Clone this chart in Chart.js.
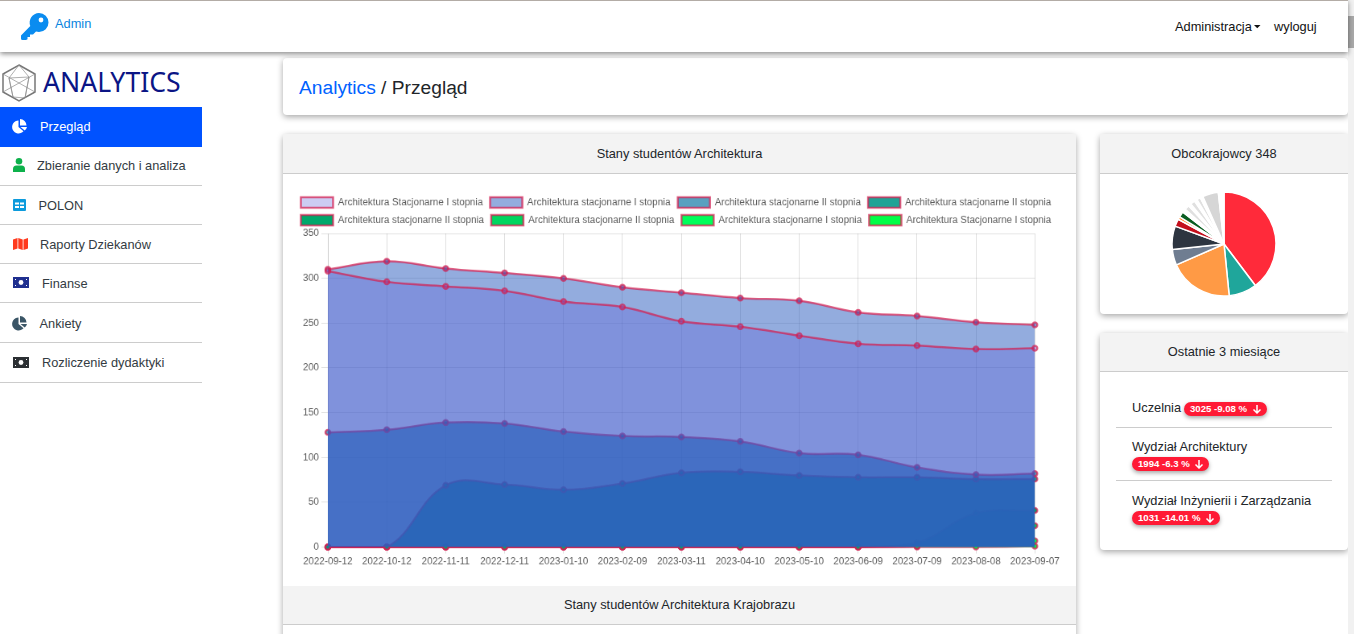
<!DOCTYPE html>
<html lang="pl"><head><meta charset="utf-8"><title>Analytics</title>
<script src="https://cdn.jsdelivr.net/npm/chart.js@4"></script>
<style>
html,body{margin:0;padding:0;width:1354px;height:634px;overflow:hidden;background:#fff;font-family:"Liberation Sans",Arial,sans-serif;color:#212529;font-size:12.8px}
.a{position:absolute;white-space:nowrap}
#nav{left:0;top:0;width:1348px;height:52px;background:#fff;border-top:1px solid #b3aca6;box-sizing:border-box;box-shadow:0 2px 5px rgba(0,0,0,.45);z-index:5}
.card{position:absolute;background:#fff;border-radius:4px;box-shadow:0 2px 6px rgba(0,0,0,.35)}
.hd{position:absolute;left:0;right:0;background:#f3f3f3;border-bottom:1px solid #ccc;text-align:center;line-height:38px;height:39px;box-sizing:border-box}
.item{position:absolute;left:0;width:202px;height:39px;border-bottom:1px solid #ccc;box-sizing:border-box}
.item span{position:absolute;top:11px;color:#333b42;white-space:nowrap}
.item svg{position:absolute}
.badge{position:absolute;background:#ff1a35;color:#fff;font-weight:bold;font-size:9.6px;height:14px;line-height:14px;border-radius:7px;box-shadow:0 2px 4px rgba(0,0,0,.35);padding-left:6px;box-sizing:border-box;white-space:nowrap}
.badge svg{position:absolute;top:2px}
.sep{position:absolute;left:16px;width:216px;height:1px;background:#ccc}
</style></head><body>
<div class="a" id="nav"></div>
<svg class="a" style="left:21px;top:13px;z-index:6" width="28" height="27" viewBox="0 0 28 27"><path fill="#0a8cf0" d="M18 0a9.500 9.500 0 0 1 0 19c-1 0-2-.2-3-.5L12 21.500H9V24H6.500v2.200L5 27H1.500A1.500 1.500 0 0 1 0 25.500v-3L9.300 13A9.500 9.500 0 0 1 18 0z"/><circle cx="20" cy="7" r="2.400" fill="#fff"/></svg>
<div class="a" style="left:55px;top:16px;color:#0a85e0;z-index:6">Admin</div>
<div class="a" style="left:1175px;top:19px;color:#111;z-index:6">Administracja</div>
<svg class="a" style="left:1254px;top:25px;z-index:6" width="7" height="4"><path d="M0 0h6.500L3.250 3.200z" fill="#111"/></svg>
<div class="a" style="left:1274px;top:19px;color:#111;z-index:6">wyloguj</div>

<svg class="a" style="left:2px;top:64px" width="34" height="38" viewBox="0 0 34 38" fill="none" stroke="#8c8c8c" stroke-width=".7"><path d="M17 1 33 10V28L17 37 1 28V10z" stroke-width="1.500" stroke="#777"/><path d="M1 10 33 28M33 10 1 28M17 1 7 14 11 33M17 1 27 13 23 34M7 14 27 13 23 34 11 33z"/></svg>
<div class="a" style="left:43px;top:63px;font-family:'Noto Sans';font-size:26.600px;line-height:38px;color:#0b1585">ANALYTICS</div>

<div class="a" style="left:0;top:107px;width:202px;height:40px;background:#0052ff"></div>
<svg class="a" style="left:12px;top:119px" width="15" height="15" viewBox="0 0 15 15"><path fill="#fff" d="M6.500 1.500V8l5 4.300A6.500 6.500 0 1 1 6.500 1.500zM8 0a6.500 6.500 0 0 1 6.500 6.500H8zM8.500 8H15a6.500 6.500 0 0 1-2.300 3.500z"/></svg>
<div class="a" style="left:40px;top:119px;color:#fff">Przegląd</div>
<div class="item" style="top:147px"><svg style="left:13px;top:11px" width="12" height="14" viewBox="0 0 12 14"><circle cx="6" cy="3.300" r="3.300" fill="#0db14b"/><path fill="#0db14b" d="M0 14v-3a3.500 3.500 0 0 1 3.500-3.500h5A3.500 3.500 0 0 1 12 11v3z"/></svg><span style="left:37px">Zbieranie danych i analiza</span></div>
<div class="item" style="top:186px"><svg style="left:13px;top:13px" width="13" height="12" viewBox="0 0 13 12"><rect width="13" height="12" rx="1" fill="#0d9bdc"/><path fill="#fff" d="M2 3.500h4v2H2zM7 3.500h4v2H7zM2 7h4v2H2zM7 7h4v2H7z"/></svg><span style="left:38.500px;top:12px">POLON</span></div>
<div class="item" style="top:225px"><svg style="left:13px;top:13px" width="15" height="12" viewBox="0 0 15 12"><path fill="#ff3b1f" d="M0 1.500 4.500 0v10.500L0 12zM5.300 0 9.700 1.500V12L5.300 10.500zM10.500 1.500 15 0v10.500L10.500 12z"/></svg><span style="left:40px;top:12px">Raporty Dziekanów</span></div>
<div class="item" style="top:264px"><svg style="left:13px;top:13px" width="16" height="11" viewBox="0 0 16 11"><rect width="16" height="11" fill="#1f2f8f"/><circle cx="8" cy="5.500" r="2.400" fill="#fff"/><path fill="#fff" d="M2 2h1v1H2zM13 8h1v1h-1zM2 8h1v1H2zM13 2h1v1h-1z"/></svg><span style="left:42px;top:12px">Finanse</span></div>
<div class="item" style="top:304px"><svg style="left:12px;top:12px" width="15" height="15" viewBox="0 0 15 15"><path fill="#3a5566" d="M6.500 1.500V8l5 4.300A6.500 6.500 0 1 1 6.500 1.500zM8 0a6.500 6.500 0 0 1 6.500 6.500H8zM8.500 8H15a6.500 6.500 0 0 1-2.300 3.500z"/></svg><span style="left:39.500px;top:12px">Ankiety</span></div>
<div class="item" style="top:344px"><svg style="left:13px;top:13px" width="16" height="11" viewBox="0 0 16 11"><rect width="16" height="11" fill="#2b2f33"/><circle cx="8" cy="5.500" r="2.400" fill="#fff"/><path fill="#fff" d="M2 2h1v1H2zM13 8h1v1h-1zM2 8h1v1H2zM13 2h1v1h-1z"/></svg><span style="left:42px;top:11px">Rozliczenie dydaktyki</span></div>

<div class="card" style="left:283px;top:58px;width:1065px;height:57px"><div class="a" style="left:16px;top:18px;font-size:19.200px;line-height:23px"><span style="color:#0062ff">Analytics</span> / Przegląd</div></div>

<div class="card" style="left:283px;top:134px;width:793px;height:520px">
 <div class="hd" style="top:0;height:40px;line-height:39px">Stany studentów Architektura</div>
 <div class="hd" style="top:452px;height:39px;">Stany studentów Architektura Krajobrazu</div>
</div>
<canvas id="main" class="a" width="959" height="472" style="left:290.200px;top:190px;transform-origin:0 0;transform:scale(.805)"></canvas>

<div class="card" style="left:1100px;top:134px;width:248px;height:180px"><div class="hd" style="top:0;height:40px;line-height:39px">Obcokrajowcy 348</div></div>
<canvas id="pie" class="a" width="130" height="120" style="left:1159px;top:184px"></canvas>

<div class="card" style="left:1100px;top:333px;width:248px;height:217px">
 <div class="hd" style="top:0;line-height:38px">Ostatnie 3 miesiące</div>
 <div class="a" style="left:32px;top:67px">Uczelnia</div>
 <div class="badge" style="left:84px;top:69px;width:83px">3025 -9.08 %<svg style="left:68px" width="10" height="10" viewBox="0 0 10 10"><path d="M5 1v8M1.500 5.500 5 9l3.500-3.500" fill="none" stroke="#fff" stroke-width="1.500"/></svg></div>
 <div class="sep" style="top:94px"></div>
 <div class="a" style="left:32px;top:106px">Wydział Architektury</div>
 <div class="badge" style="left:32px;top:124px;width:77px">1994 -6.3 %<svg style="left:62px" width="10" height="10" viewBox="0 0 10 10"><path d="M5 1v8M1.500 5.500 5 9l3.500-3.500" fill="none" stroke="#fff" stroke-width="1.500"/></svg></div>
 <div class="sep" style="top:147px"></div>
 <div class="a" style="left:32px;top:160px">Wydział Inżynierii i Zarządzania</div>
 <div class="badge" style="left:32px;top:178px;width:88px">1031 -14.01 %<svg style="left:73px" width="10" height="10" viewBox="0 0 10 10"><path d="M5 1v8M1.500 5.500 5 9l3.500-3.500" fill="none" stroke="#fff" stroke-width="1.500"/></svg></div>
</div>

<div class="a" style="left:1348px;top:0;width:6px;height:634px;background:#f1f1f1"></div>
<div class="a" style="left:1348px;top:16px;width:6px;height:32px;background:#a8a8a8"></div>

<script>
const dates = ["2022-09-12","2022-10-12","2022-11-11","2022-12-11","2023-01-10","2023-02-09","2023-03-11","2023-04-10","2023-05-10","2023-06-09","2023-07-09","2023-08-08","2023-09-07"];
const seriesNames = ["Architektura Stacjonarne I stopnia","Architektura stacjonarne I stopnia","Architektura stacjonarne II stopnia","Architektura stacjonarne II stopnia","Architektura stacjonarne II stopnia","Architektura stacjonarne II stopnia","Architektura stacjonarne I stopnia","Architektura Stacjonarne I stopnia"];
const s1 = [308,296,291,286,274,268,252,246,236,227,225,221,222];
const s2 = [310,319,311,306,300,290,284,278,275,262,258,251,248];
const s3 = [128,131,139,138,129,124,123,118,105,103,89,81,82];
const s4 = [0,0,69,70,64,71,83,84,80,78,78,76,76];
const s5 = [0,0,0,0,0,0,0,0,0,0,5,38,41];
const s6 = [0,0,0,0,0,0,0,0,0,0,1,17,24];
const s7 = [0,0,0,0,0,0,0,0,0,0,2,4,7];
const s8 = [0,0,0,0,0,0,0,0,0,0,0,0,1];
const fills = ["rgba(85,85,215,.3)","rgba(40,90,190,.5)","rgba(0,109,158,.65)","rgba(0,150,136,.88)","rgba(0,168,107,1)","rgba(0,214,95,1)","rgba(0,255,90,1)","rgba(0,255,70,1)"];
const lineColor = "rgba(212,30,80,.72)";
const seriesValues = [s1,s2,s3,s4,s5,s6,s7,s8];

new Chart(document.getElementById("main"),{type:"line",
 data:{labels:dates,datasets:seriesValues.map((d,i)=>({label:seriesNames[i],data:d,backgroundColor:fills[i],borderColor:lineColor,borderWidth:2.5,fill:"origin",tension:.4,pointRadius:3,pointBorderWidth:2.5,pointBackgroundColor:fills[i],pointBorderColor:lineColor,clip:false}))},
 options:{responsive:false,animation:false,devicePixelRatio:1,
  plugins:{tooltip:{enabled:false},legend:{labels:{color:"#5c5c5c",boxWidth:40,boxHeight:13,padding:9,font:{size:12,family:"'Liberation Sans',Arial,sans-serif"}}}},
  scales:{x:{grid:{color:"rgba(0,0,0,.13)"},ticks:{color:"#5c5c5c",maxRotation:0,autoSkip:false,font:{size:12,family:"'Liberation Sans',Arial,sans-serif"}}},
   y:{min:0,max:350,grid:{color:"rgba(0,0,0,.13)"},ticks:{stepSize:50,color:"#5c5c5c",font:{size:12,family:"'Liberation Sans',Arial,sans-serif"}},afterFit(s){s.width=47;}}}}});

const pieValues = [137,30,69,17,25,8,3,6,4,5,3,5,3,4,3,17,6];
const pieColors = ["#ff2a3a","#1fa69b","#ff9a45","#6f7d91","#2d3540","#c40f1c","#ff7f1e","#0b5e22","#ffffff","#e0e0e0","#ffffff","#e0e0e0","#ffffff","#e0e0e0","#ffffff","#d6d6d6","#ffffff"];
new Chart(document.getElementById("pie"),{type:"pie",
 data:{labels:pieValues.map((v,i)=>String(i+1)),datasets:[{data:pieValues,backgroundColor:pieColors,borderColor:"#fff",borderWidth:1.500,radius:52}]},
 options:{responsive:false,animation:false,devicePixelRatio:1,plugins:{legend:{display:false},tooltip:{enabled:false}}}});
</script>
</body></html>
